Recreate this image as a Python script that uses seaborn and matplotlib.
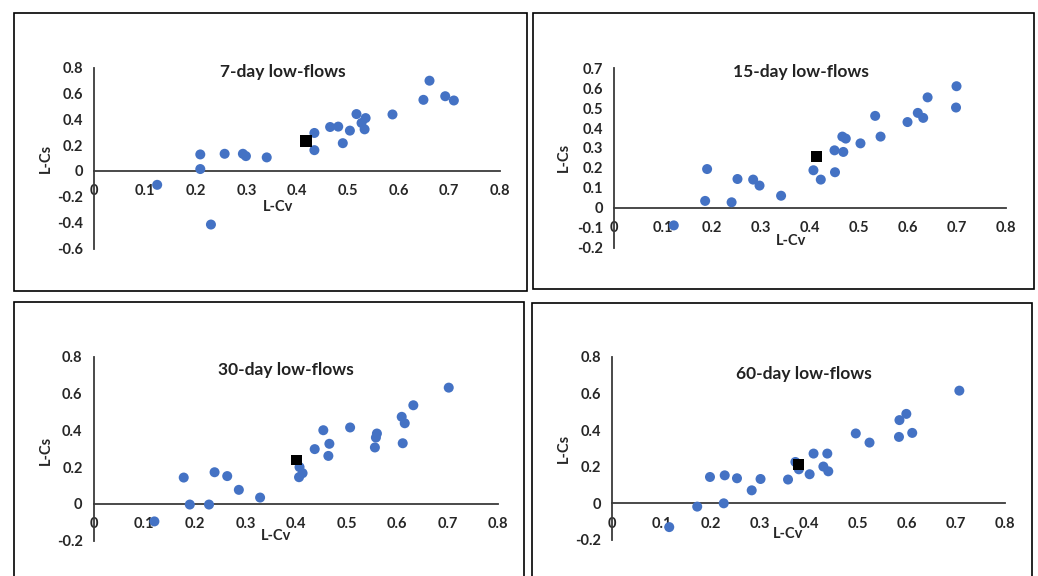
import numpy as np
import matplotlib.pyplot as plt
import seaborn as sns
from matplotlib.patches import Rectangle

# L-moment ratios of the gauging sites
cv_7 = [0.124, 0.209, 0.209, 0.230, 0.257, 0.293, 0.299, 0.340, 0.434, 0.434, 0.465, 0.481,
        0.490, 0.504, 0.517, 0.527, 0.535, 0.533, 0.588, 0.649, 0.661, 0.692, 0.709]
cs_7 = [-0.107, 0.128, 0.015, -0.414, 0.133, 0.133, 0.115, 0.105, 0.294, 0.161, 0.340, 0.343,
        0.215, 0.312, 0.440, 0.371, 0.409, 0.322, 0.437, 0.550, 0.698, 0.578, 0.545]

cv_15 = [0.122, 0.186, 0.190, 0.240, 0.252, 0.284, 0.297, 0.341, 0.407, 0.422, 0.450, 0.451,
         0.468, 0.466, 0.473, 0.503, 0.533, 0.544, 0.599, 0.620, 0.631, 0.640, 0.698, 0.699]
cs_15 = [-0.089, 0.034, 0.194, 0.027, 0.144, 0.141, 0.111, 0.060, 0.188, 0.141, 0.288, 0.178,
         0.280, 0.357, 0.347, 0.323, 0.461, 0.357, 0.430, 0.476, 0.451, 0.554, 0.503, 0.610]

cv_30 = [0.120, 0.178, 0.190, 0.228, 0.239, 0.264, 0.287, 0.329, 0.407, 0.413, 0.406, 0.437,
         0.454, 0.466, 0.464, 0.507, 0.556, 0.558, 0.560, 0.609, 0.615, 0.611, 0.632, 0.702]
cs_30 = [-0.096, 0.143, -0.004, -0.004, 0.172, 0.151, 0.076, 0.034, 0.200, 0.167, 0.145, 0.298,
         0.401, 0.327, 0.261, 0.416, 0.307, 0.361, 0.383, 0.474, 0.439, 0.330, 0.537, 0.633]

cv_60 = [0.116, 0.173, 0.199, 0.229, 0.227, 0.254, 0.284, 0.302, 0.358, 0.373, 0.380, 0.402,
         0.410, 0.430, 0.440, 0.438, 0.496, 0.524, 0.584, 0.585, 0.599, 0.611, 0.707]
cs_60 = [-0.130, -0.018, 0.144, 0.153, 0.000, 0.137, 0.071, 0.133, 0.130, 0.226, 0.186, 0.159,
         0.272, 0.201, 0.175, 0.272, 0.382, 0.332, 0.363, 0.455, 0.489, 0.385, 0.616]

# regional average (black square)
reg_7 = (0.418, 0.230)
reg_15 = (0.414, 0.255)
reg_30 = (0.401, 0.240)
reg_60 = (0.379, 0.212)

titles = ["7-day low-flows", "15-day low-flows", "30-day low-flows", "60-day low-flows"]

W, H = 1038, 576
BLUE = "#4472C4"
AXC = "#3a3a3a"

sns.set_style("white")
plt.rcParams["font.family"] = ["Lato", "DejaVu Sans"]
plt.rcParams["font.weight"] = "bold"

fig = plt.figure(figsize=(W / 100, H / 100), dpi=100)
fig.patch.set_facecolor("white")


def fx(px):
    return px / W


def fy(py):
    return 1 - py / H


# layout in pixels: frame box, axes box (x at 0 / 0.8, y at top / bottom), text spots
panels = [
    dict(cv=cv_7, cs=cs_7, reg=reg_7, ylim=(-0.6, 0.8), ystep=0.2,
         box=(14, 12.7, 526.5, 291), ax=(94.3, 500, 67.5, 248.6),
         title=(283, 72), xlab=(278, 207), ylab=(45.5, 158), sq=74),
    dict(cv=cv_15, cs=cs_15, reg=reg_15, ylim=(-0.2, 0.7), ystep=0.1,
         box=(533, 12.7, 1034, 289), ax=(614, 1006, 68.3, 247.5),
         title=(801, 72), xlab=(791, 241), ylab=(564, 157), sq=62),
    dict(cv=cv_30, cs=cs_30, reg=reg_30, ylim=(-0.2, 0.8), ystep=0.2,
         box=(14, 302, 523.5, 600), ax=(93.7, 498.3, 357, 540.5),
         title=(285.5, 370), xlab=(276, 536.5), ylab=(45.5, 450), sq=52),
    dict(cv=cv_60, cs=cs_60, reg=reg_60, ylim=(-0.2, 0.8), ystep=0.2,
         box=(531.5, 302.5, 1032, 600), ax=(612.3, 1005, 357, 539.9),
         title=(804, 374), xlab=(788, 534), ylab=(563.5, 448), sq=56),
]

for i, p in enumerate(panels):
    bx0, by0, bx1, by1 = p["box"]
    fig.patches.append(Rectangle((fx(bx0), fy(by1)), fx(bx1 - bx0), (by1 - by0) / H,
                                 transform=fig.transFigure, fill=False,
                                 edgecolor="black", linewidth=1.2))

    x0, x1, yt, yb = p["ax"]
    ax = fig.add_axes([fx(x0), fy(yb), fx(x1 - x0), (yb - yt) / H])
    ax.set_facecolor("none")

    sns.scatterplot(x=p["cv"], y=p["cs"], ax=ax, color=BLUE, s=52,
                    edgecolor="none", linewidth=0, zorder=3, clip_on=False)
    sns.scatterplot(x=[p["reg"][0]], y=[p["reg"][1]], ax=ax, color="black", marker="s",
                    s=p["sq"], edgecolor="none", linewidth=0, zorder=4, clip_on=False)

    ax.set_xlim(0, 0.8)
    ax.set_ylim(*p["ylim"])
    for side in ["top", "right"]:
        ax.spines[side].set_visible(False)
    for side in ["left", "bottom"]:
        ax.spines[side].set_position(("data", 0))
        ax.spines[side].set_color(AXC)
        ax.spines[side].set_linewidth(1.3)

    xt = np.round(np.arange(0, 0.81, 0.1), 1)
    yt_vals = np.round(np.arange(p["ylim"][0], p["ylim"][1] + 1e-9, p["ystep"]), 1)
    ax.set_xticks(xt)
    ax.set_xticklabels([f"{v + 0.0:g}" for v in xt])
    ax.set_yticks(yt_vals)
    ax.set_yticklabels([f"{v + 0.0:g}" for v in yt_vals])
    ax.tick_params(axis="x", length=0, pad=9.5, labelsize=10.5, labelcolor="#262626")
    ax.tick_params(axis="y", length=0, pad=8, labelsize=10.5, labelcolor="#262626")
    for lab in ax.get_xticklabels() + ax.get_yticklabels():
        lab.set_fontweight("bold")
    ax.set_xlabel("")
    ax.set_ylabel("")
    ax.grid(False)

    tx, ty = p["title"]
    fig.text(fx(tx), fy(ty), titles[i], ha="center", va="center",
             fontsize=12.5, fontweight="bold", color="#222222")
    lx, ly = p["xlab"]
    fig.text(fx(lx), fy(ly), "L-Cv", ha="center", va="center",
             fontsize=10.5, fontweight="bold", color="#262626")
    cx, cy = p["ylab"]
    fig.text(fx(cx), fy(cy), "L-Cs", ha="center", va="center", rotation=90,
             fontsize=10.5, fontweight="bold", color="#262626")

fig.savefig("out.png", dpi=100, facecolor="white")
